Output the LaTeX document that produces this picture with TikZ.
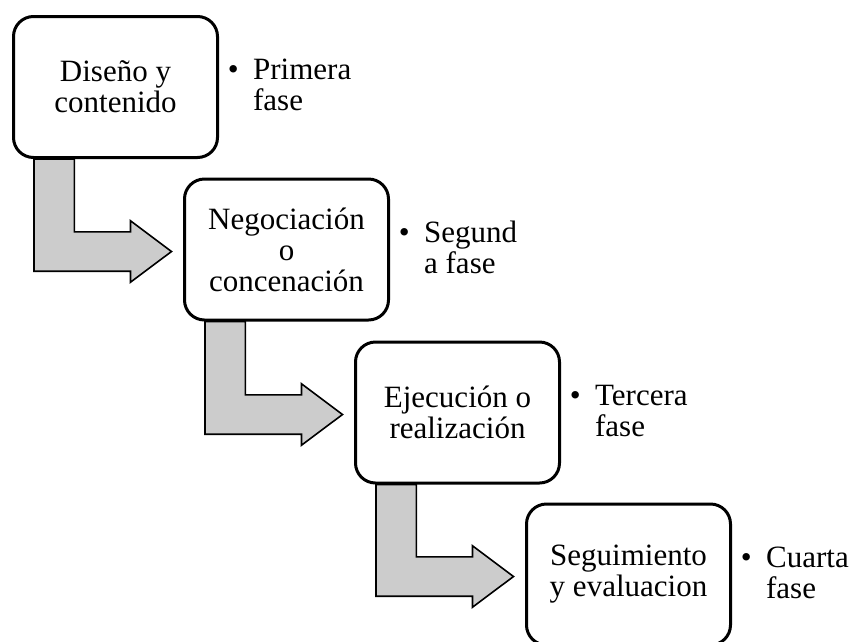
\documentclass[tikz,border=0pt]{standalone}
\usepackage{fontspec}
\setmainfont{Liberation Serif}
\usepackage{tikz}
\usetikzlibrary{calc}
\usetikzlibrary{positioning}

\tikzset{
  fasebox/.style={draw, line width=3pt, rounded corners=20pt, fill=white,
    minimum width=204pt, minimum height=141pt, align=center, inner sep=0pt},
  fasetag/.style={anchor=west, inner sep=0pt, xshift=8.6pt, yshift=-2pt},
  bentarrow/.style={draw=black, line width=1.6pt, fill=black!20, line join=miter},
}
\newcommand{\fasetext}[2]{\begin{tabular}{@{}l@{\hspace{14.5pt}}l@{}}\textbullet & #1\\ & #2\end{tabular}}
\newcommand{\flecha}[2]{%
  \coordinate (#1tip) at ($(#2.west)+(-11.5pt,-2pt)$);
  \draw[bentarrow] ($(#1.south west)+(22pt,0)$) -- ++(40.4pt,0)
    |- ($(#1tip)+(-41pt,19.7pt)$) -- ++(0,11pt) -- (#1tip) -- ++(-41pt,-30.7pt)
    -- ++(0,11pt) -| ($(#1.south west)+(22pt,0)$) -- cycle;}

\begin{document}
\begin{tikzpicture}[x=1pt, y=1pt, line cap=round, line join=round,
    font=\fontsize{31}{31}\selectfont]
  \useasboundingbox (0,0) rectangle (852,-641);
  %--- fases
    \node (diseno) [fasebox] at (115.5, -87) {Diseño y\\contenido};
    \node (negociacion) [fasebox] at (286.5, -249.5) {Negociación\\o\\concenación};
    \node (ejecucion) [fasebox] at (457.5, -412.5) {Ejecución o\\realización};
    \node (seguimiento) [fasebox] at (628.5, -574.5) {Seguimiento\\y evaluacion};
  %--- etiquetas
    \node (primera) [fasetag] at (diseno.east) {\fasetext{Primera}{fase}};
    \node (segunda) [fasetag] at (negociacion.east) {\fasetext{Segund}{a fase}};
    \node (tercera) [fasetag] at (ejecucion.east) {\fasetext{Tercera}{fase}};
    \node (cuarta) [fasetag] at (seguimiento.east) {\fasetext{Cuarta}{fase}};
  %--- flechas
    \flecha{diseno}{negociacion}
    \flecha{negociacion}{ejecucion}
    \flecha{ejecucion}{seguimiento}
\end{tikzpicture}
\end{document}
